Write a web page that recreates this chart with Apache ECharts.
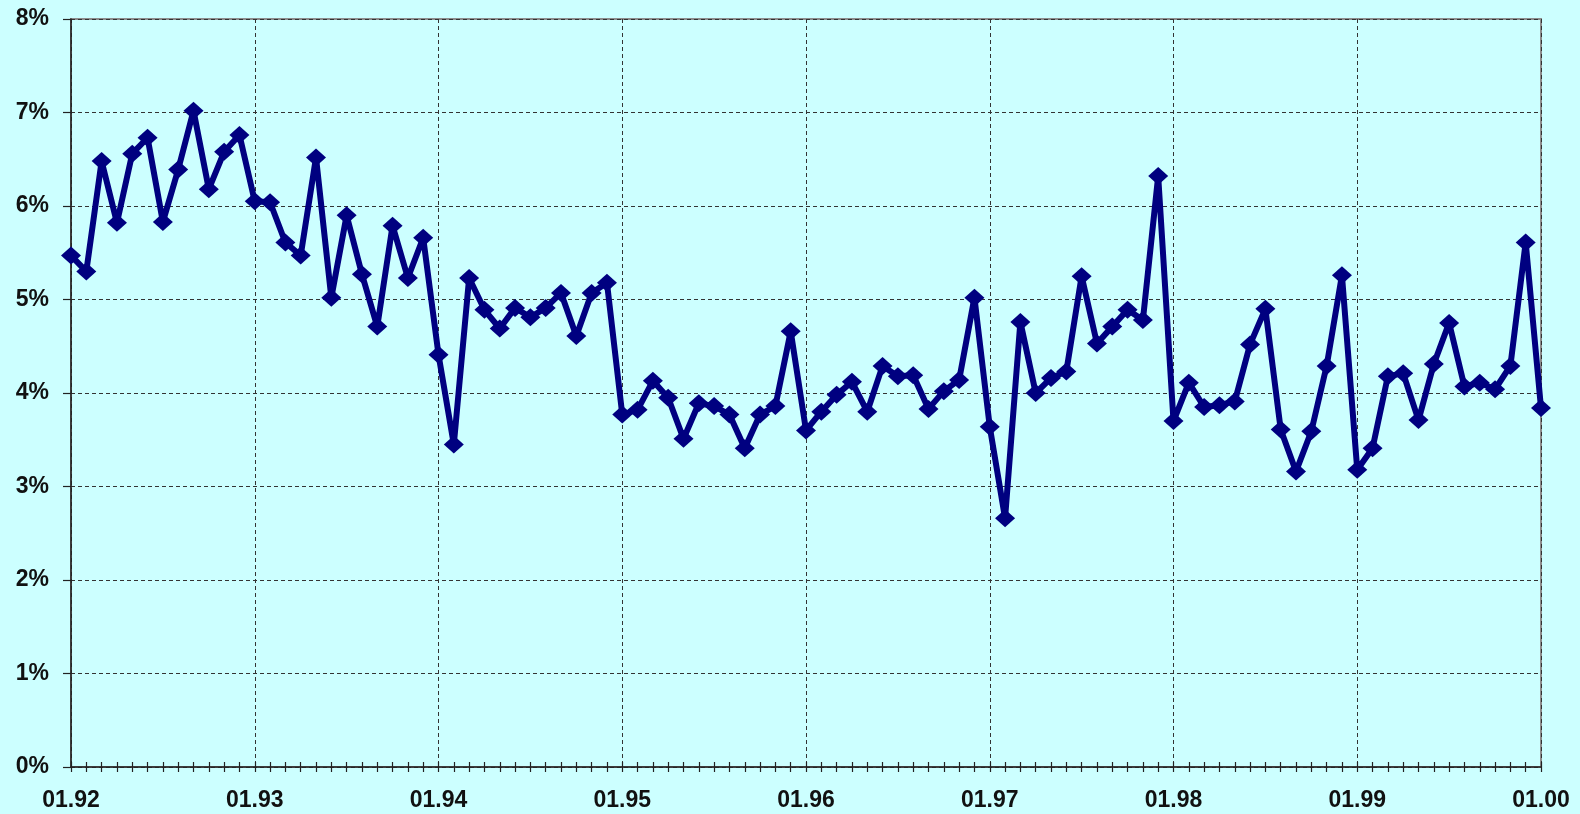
<!DOCTYPE html>
<html>
<head>
<meta charset="utf-8">
<script src="https://cdn.jsdelivr.net/npm/echarts@6/dist/echarts.min.js"></script>
<style>
html,body{margin:0;padding:0;background:#CCFFFF;}
#chart{width:1580px;height:814px;}
</style>
</head>
<body>
<div id="chart"></div>
<script>
// Monthly categories 01.92 .. 01.00
const years = ['92','93','94','95','96','97','98','99','00'];
const months = ['01','02','03','04','05','06','07','08','09','10','11','12'];
const categories = [];
for (let y = 0; y < years.length; y++) {
  for (let m = 0; m < 12; m++) {
    if (y === years.length - 1 && m > 0) break;
    categories.push(months[m] + '.' + years[y]);
  }
}
// Values in percent
const values1992 = [5.47, 5.30, 6.48, 5.82, 6.56, 6.73, 5.83, 6.39, 7.02, 6.18, 6.58, 6.76];
const values1993 = [6.05, 6.04, 5.61, 5.47, 6.52, 5.02, 5.90, 5.27, 4.71, 5.79, 5.23, 5.66];
const values1994 = [4.41, 3.45, 5.23, 4.89, 4.69, 4.91, 4.81, 4.91, 5.07, 4.61, 5.07, 5.18];
const values1995 = [3.77, 3.82, 4.13, 3.95, 3.51, 3.89, 3.86, 3.77, 3.41, 3.77, 3.86, 4.66];
const values1996 = [3.60, 3.80, 3.98, 4.12, 3.80, 4.29, 4.18, 4.19, 3.83, 4.02, 4.14, 5.02];
const values1997 = [3.64, 2.66, 4.76, 4.00, 4.16, 4.23, 5.25, 4.53, 4.71, 4.89, 4.78, 6.32];
const values1998 = [3.70, 4.11, 3.85, 3.87, 3.91, 4.52, 4.90, 3.61, 3.16, 3.59, 4.29, 5.26];
const values1999 = [3.18, 3.41, 4.18, 4.21, 3.71, 4.31, 4.75, 4.07, 4.11, 4.04, 4.29, 5.61];
const values2000 = [3.84];
const values = [].concat(values1992, values1993, values1994, values1995, values1996,
  values1997, values1998, values1999, values2000);
const yTicks = { min: 0, max: 8, interval: 1 };

const chart = echarts.init(document.getElementById('chart'));
const font = 'Liberation Sans';
chart.setOption({
  backgroundColor: '#CCFFFF',
  animation: false,
  grid: {
    left: 71, right: 39, top: 19, bottom: 47,
    show: true, borderColor: '#8C8C8C', borderWidth: 2, backgroundColor: '#CCFFFF'
  },
  xAxis: [{
    type: 'category',
    data: categories,
    boundaryGap: false,
    axisLine: { lineStyle: { color: '#222', width: 1.5 } },
    axisTick: { interval: 0, length: 5, lineStyle: { color: '#222', width: 1.2 } },
    axisLabel: {
      interval: 11, margin: 22, color: '#111', fontSize: 23, fontWeight: 'bold', fontFamily: font
    },
    splitLine: { show: true, interval: 11, lineStyle: { color: '#333', type: [4, 3], width: 1 } }
  }, {
    type: 'category',
    data: categories,
    boundaryGap: false,
    position: 'bottom',
    axisLine: { show: false },
    axisTick: { inside: true, interval: 0, length: 5, lineStyle: { color: '#222', width: 1.2 } },
    axisLabel: { show: false },
    splitLine: { show: false }
  }],
  yAxis: {
    type: 'value',
    min: yTicks.min, max: yTicks.max, interval: yTicks.interval,
    axisLine: { show: true, lineStyle: { color: '#222', width: 1.5 } },
    axisTick: { show: true, length: 8, lineStyle: { color: '#222', width: 1.2 } },
    axisLabel: { formatter: '{value}%', margin: 22, color: '#111', fontSize: 23, fontWeight: 'bold', fontFamily: font },
    splitLine: { show: true, lineStyle: { color: '#333', type: [4, 3], width: 1 } }
  },
  series: [{
    type: 'line',
    data: values,
    xAxisIndex: 0,
    symbol: 'diamond',
    symbolSize: [20, 18],
    showAllSymbol: true,
    lineStyle: { color: '#000080', width: 6 },
    itemStyle: { color: '#000080' }
  }]
});
</script>
</body>
</html>
